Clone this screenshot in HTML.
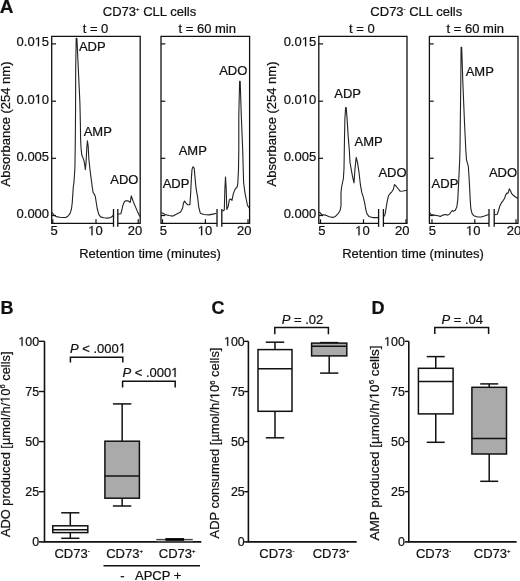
<!DOCTYPE html>
<html><head><meta charset="utf-8"><style>
html,body{margin:0;padding:0;background:#fff;}
svg{display:block;will-change:transform;}
text{font-family:"Liberation Sans",sans-serif;font-size:13px;fill:#111;stroke:#111;stroke-width:0.22px;}
line{stroke:#111;}
.fr{fill:none;stroke:#111;stroke-width:1.3;}
.c{fill:none;stroke:#222;stroke-width:1.1;stroke-linejoin:round;}
.bx{fill:none;stroke:#111;stroke-width:1.5;}
.h1{fill:none;stroke:none;}
.one{fill:#111;stroke:#111;stroke-width:0.22px;}
.ax{fill:none;stroke:#111;stroke-width:1.6;}
rect.bx{stroke-width:1.5;}
</style></head><body>
<svg width="520" height="581" viewBox="0 0 520 581">
<rect width="520" height="581" fill="#fff"/>
<text x="-0.3" y="12.8" style="font-weight:bold;font-size:19px">A</text>
<text x="149.5" y="15.8" text-anchor="middle">CD73<tspan style="font-size:6px" dy="-5">+</tspan><tspan dy="5"> CLL cells</tspan></text>
<text x="416.3" y="15.8" text-anchor="middle">CD73<tspan style="font-size:6px" dy="-5">-</tspan><tspan dy="5"> CLL cells</tspan></text>
<path class="fr" d="M113.5,223.3 H51.7 V36.3 H140.2 V223.3 H117.8"/>
<line x1="113.5" y1="209" x2="113.5" y2="226.8" stroke-width="1.3"/>
<line x1="117.8" y1="209" x2="117.8" y2="226.8" stroke-width="1.3"/>
<line x1="51.7" y1="43.9" x2="56.0" y2="43.9" stroke-width="1.2"/>
<line x1="51.7" y1="101.2" x2="56.0" y2="101.2" stroke-width="1.2"/>
<line x1="51.7" y1="158.3" x2="56.0" y2="158.3" stroke-width="1.2"/>
<line x1="51.7" y1="215.5" x2="56.0" y2="215.5" stroke-width="1.2"/>
<line x1="52.8" y1="223.3" x2="52.8" y2="219.3" stroke-width="1.2"/>
<line x1="96.0" y1="223.3" x2="96.0" y2="219.3" stroke-width="1.2"/>
<line x1="138.2" y1="223.3" x2="138.2" y2="219.3" stroke-width="1.2"/>
<text x="54.2" y="235.2" text-anchor="middle">5</text>
<text x="95.4" y="235.2" text-anchor="middle"><tspan class="h1">1</tspan>0</text>
<text x="135.1" y="235.2" text-anchor="middle">20</text>
<text x="95.5" y="33.3" text-anchor="middle">t = 0</text>
<text x="49.1" y="46.199999999999996" text-anchor="end">0.0<tspan class="h1">1</tspan>5</text>
<text x="49.1" y="103.5" text-anchor="end">0.0<tspan class="h1">1</tspan>0</text>
<text x="49.1" y="160.60000000000002" text-anchor="end">0.005</text>
<text x="49.1" y="217.8" text-anchor="end">0.000</text>
<path class="fr" d="M217.0,223.3 H161.0 V36.3 H249.6 V223.3 H221.8"/>
<line x1="217.0" y1="209" x2="217.0" y2="226.8" stroke-width="1.3"/>
<line x1="221.8" y1="209" x2="221.8" y2="226.8" stroke-width="1.3"/>
<line x1="161.0" y1="43.9" x2="165.3" y2="43.9" stroke-width="1.2"/>
<line x1="161.0" y1="101.2" x2="165.3" y2="101.2" stroke-width="1.2"/>
<line x1="161.0" y1="158.3" x2="165.3" y2="158.3" stroke-width="1.2"/>
<line x1="161.0" y1="215.5" x2="165.3" y2="215.5" stroke-width="1.2"/>
<line x1="162.5" y1="223.3" x2="162.5" y2="219.3" stroke-width="1.2"/>
<line x1="205.4" y1="223.3" x2="205.4" y2="219.3" stroke-width="1.2"/>
<line x1="248.0" y1="223.3" x2="248.0" y2="219.3" stroke-width="1.2"/>
<text x="163.4" y="235.2" text-anchor="middle">5</text>
<text x="205.0" y="235.2" text-anchor="middle"><tspan class="h1">1</tspan>0</text>
<text x="244.2" y="235.2" text-anchor="middle">20</text>
<text x="207.2" y="33.3" text-anchor="middle">t = 60 min</text>
<path class="fr" d="M378.6,223.3 H318.8 V36.3 H407.0 V223.3 H383.4"/>
<line x1="378.6" y1="209" x2="378.6" y2="226.8" stroke-width="1.3"/>
<line x1="383.4" y1="209" x2="383.4" y2="226.8" stroke-width="1.3"/>
<line x1="318.8" y1="43.9" x2="323.1" y2="43.9" stroke-width="1.2"/>
<line x1="318.8" y1="101.2" x2="323.1" y2="101.2" stroke-width="1.2"/>
<line x1="318.8" y1="158.3" x2="323.1" y2="158.3" stroke-width="1.2"/>
<line x1="318.8" y1="215.5" x2="323.1" y2="215.5" stroke-width="1.2"/>
<line x1="320.5" y1="223.3" x2="320.5" y2="219.3" stroke-width="1.2"/>
<line x1="363.5" y1="223.3" x2="363.5" y2="219.3" stroke-width="1.2"/>
<line x1="406.0" y1="223.3" x2="406.0" y2="219.3" stroke-width="1.2"/>
<text x="321.9" y="235.2" text-anchor="middle">5</text>
<text x="362.4" y="235.2" text-anchor="middle"><tspan class="h1">1</tspan>0</text>
<text x="402.3" y="235.2" text-anchor="middle">20</text>
<text x="361.8" y="33.3" text-anchor="middle">t = 0</text>
<text x="316.2" y="46.199999999999996" text-anchor="end">0.0<tspan class="h1">1</tspan>5</text>
<text x="316.2" y="103.5" text-anchor="end">0.0<tspan class="h1">1</tspan>0</text>
<text x="316.2" y="160.60000000000002" text-anchor="end">0.005</text>
<text x="316.2" y="217.8" text-anchor="end">0.000</text>
<path class="fr" d="M489.0,223.3 H429.4 V36.3 H518.0 V223.3 H494.2"/>
<line x1="489.0" y1="209" x2="489.0" y2="226.8" stroke-width="1.3"/>
<line x1="494.2" y1="209" x2="494.2" y2="226.8" stroke-width="1.3"/>
<line x1="429.4" y1="43.9" x2="433.7" y2="43.9" stroke-width="1.2"/>
<line x1="429.4" y1="101.2" x2="433.7" y2="101.2" stroke-width="1.2"/>
<line x1="429.4" y1="158.3" x2="433.7" y2="158.3" stroke-width="1.2"/>
<line x1="429.4" y1="215.5" x2="433.7" y2="215.5" stroke-width="1.2"/>
<line x1="432.0" y1="223.3" x2="432.0" y2="219.3" stroke-width="1.2"/>
<line x1="474.8" y1="223.3" x2="474.8" y2="219.3" stroke-width="1.2"/>
<line x1="516.0" y1="223.3" x2="516.0" y2="219.3" stroke-width="1.2"/>
<text x="432.3" y="235.2" text-anchor="middle">5</text>
<text x="473.2" y="235.2" text-anchor="middle"><tspan class="h1">1</tspan>0</text>
<text x="514.0" y="235.2" text-anchor="middle">20</text>
<text x="475.3" y="33.3" text-anchor="middle">t = 60 min</text>
<text x="150" y="258.3" text-anchor="middle">Retention time (minutes)</text>
<text x="413" y="258.3" text-anchor="middle">Retention time (minutes)</text>
<text transform="translate(10.3,124) rotate(-90)" text-anchor="middle">Absorbance (254 nm)</text>
<text transform="translate(276.2,124) rotate(-90)" text-anchor="middle">Absorbance (254 nm)</text>
<text x="78.9" y="51.2">ADP</text>
<text x="83.7" y="135.9">AMP</text>
<text x="110.3" y="184.0">ADO</text>
<text x="178.7" y="155.0">AMP</text>
<text x="162.7" y="187.6">ADP</text>
<text x="219.2" y="74.5">ADO</text>
<text x="334.3" y="98.3">ADP</text>
<text x="354.5" y="145.6">AMP</text>
<text x="378.4" y="177.3">ADO</text>
<text x="465.7" y="76.0">AMP</text>
<text x="431.59999999999997" y="188.1">ADP</text>
<text x="488.9" y="177.4">ADO</text>
<polyline class="c" points="51.3,211.9 52.5,213.1 53.75,215 55.6,216.25 57.5,216.9 60,217.25 62.5,217.5 65.6,217.5 67.5,216.5 69.4,214.4 70.6,211.9 71.5,208.75 72.25,202.5 72.75,195 73.2,188 74,182 74.9,167.8 75.2,148.9 75.4,130 75.6,102.8 75.7,68.4 76.2,38.3 76.9,38.5 77.5,51.2 78.7,77 79.9,102.8 80.4,125 80.6,139.5 81.1,148.9 81.8,155 83,157.9 83.9,160.3 84.9,165.9 85.3,169.7 86,163.1 86.75,148.9 87.4,140.9 88.2,146.1 88.8,158.4 89.8,167.8 90.7,175.4 91.6,182 92.3,187.5 93.1,192.5 94.4,194.4 95.25,196.25 96.25,202.5 97.25,208.75 98.75,214.4 100.6,216.9 103.75,217.75 107.5,218.1 110.6,217.5 112.5,216.25 113.3,214.8"/>
<polyline class="c" points="118.1,214.1 120.9,213.7 122,209.5 122.8,205.6 124.3,201.7 125.5,200.9 128.2,200.9 130.2,202.5 131.3,195.9 133.3,201.7 135.6,207.1 137.9,212.6 139.8,216.4"/>
<polyline class="c" points="161.3,212.6 165.2,214.5 169,215.5 172.9,216.1 176.8,213.9 180.6,211.9 182.6,208.1 183.5,202.9 184.5,201 185.8,202.9 187.7,204.8 189.9,204.8 190.7,192.6 191.4,178.4 192,169.4 193,166.8 194.2,168.1 195.1,178.4 196.1,188.7 197.7,197.7 198.7,206.8 200.3,213.2 203.9,214.5 209,214.9 214.2,213.9 216.1,213.2"/>
<polyline class="c" points="222.3,211.3 224.3,210 224.9,188.7 225.5,177.1 226.2,188.7 226.8,209.4 228.1,206.8 229.4,199.7 230.7,199 232,200.3 233.3,193.9 235,189.4 237.2,186.8 237.8,183.5 238.5,169.4 238.8,150 238.8,116 239.6,81.2 240.2,81.2 241.3,116 242.7,150 243.6,182.3 244.9,192.6 246.2,199 247.5,205.5 249.4,208.1"/>
<polyline class="c" points="319.2,212 321.7,214.5 325.4,215.1 329.2,216.8 332.9,217.4 335.4,216.4 337.9,213.9 339.3,212 340.3,209.6 341,205.8 341,192.2 341.8,186 343.4,178.5 344,168.6 344.3,150 344.5,137.9 344.9,118.9 345.6,107.6 346.2,107.6 347.1,118.9 348.3,137.9 349.3,150 350,162.4 351.3,169.9 352.7,177.3 354,182.9 355,168.6 356.2,157.4 357.5,162.4 359,172.3 360.4,184.7 361.7,192.2 363.3,197.1 364.5,202.1 365.8,209.6 367,213.9 368.9,216.4 372.6,217.6 378.2,217.6"/>
<polyline class="c" points="384,216.5 385.1,214.2 386.2,207.5 387.3,200.8 388.5,195.8 390.1,193.5 391.8,191.8 393.5,189 394.4,184.6 395.7,185.7 398,188.5 400.2,191.3 403,191 406.9,190.2"/>
<polyline class="c" points="429.9,212.7 431.1,214.5 434.2,215.1 437.9,215.8 440.4,216.4 442.9,215.1 445.4,214.5 447.9,215.1 449.7,213.9 451,212 452.2,210.5 453.4,211.4 455.3,210.2 456.8,207.1 457.8,199.6 458.4,187.2 459,174.8 459.6,162.4 460,150 460.3,122.6 460.8,81.3 461.1,47.2 461.7,47.2 462.8,81.3 464.5,122.6 465.8,150 466.5,159.9 467.5,163.6 468.3,166.1 468.9,174.8 469.6,187.2 470.2,199.6 470.8,208.3 472,213.3 473.9,215.8 477.6,217 481.3,217 485.1,215.8 488.8,214.5"/>
<polyline class="c" points="494.9,214.8 497.3,214.2 498.5,210.5 499.7,206.3 501.5,202.7 503.3,200.3 504.5,198.5 505.7,194.9 506.9,193.1 508.1,193.1 509.3,188.9 510.5,190.7 511.7,193.7 513.5,195.5 515.9,197.3 517.7,198.5"/>
<text x="0.6" y="314" style="font-weight:bold;font-size:18px">B</text>
<path class="ax" d="M44.5,341.3 V541.9 H201.3"/>
<line x1="39.0" y1="541.9" x2="44.5" y2="541.9" stroke-width="1.6"/>
<text x="39.1" y="546.3" text-anchor="end" style="font-size:12.4px">0</text>
<line x1="39.0" y1="491.7" x2="44.5" y2="491.7" stroke-width="1.4"/>
<text x="39.1" y="496.09999999999997" text-anchor="end" style="font-size:12.4px">25</text>
<line x1="39.0" y1="441.6" x2="44.5" y2="441.6" stroke-width="1.4"/>
<text x="39.1" y="446.0" text-anchor="end" style="font-size:12.4px">50</text>
<line x1="39.0" y1="391.5" x2="44.5" y2="391.5" stroke-width="1.4"/>
<text x="39.1" y="395.9" text-anchor="end" style="font-size:12.4px">75</text>
<line x1="39.0" y1="341.3" x2="44.5" y2="341.3" stroke-width="1.4"/>
<text x="39.1" y="345.7" text-anchor="end" style="font-size:12.4px"><tspan class="h1">1</tspan>00</text>
<line class="bx" x1="70.3" y1="512.8000000000001" x2="70.3" y2="538.3000000000001"/>
<line class="bx" x1="61.199999999999996" y1="512.8000000000001" x2="79.39999999999999" y2="512.8000000000001"/>
<line class="bx" x1="61.199999999999996" y1="538.3000000000001" x2="79.39999999999999" y2="538.3000000000001"/>
<rect class="bx" x="52.8" y="525.8000000000001" width="35.0" height="6.7999999999999545" style="fill:#fff"/>
<line class="bx" x1="52.8" y1="529.7" x2="87.8" y2="529.7"/>
<line class="bx" x1="122.15" y1="403.90000000000003" x2="122.15" y2="506.00000000000006"/>
<line class="bx" x1="112.95" y1="403.90000000000003" x2="131.35" y2="403.90000000000003"/>
<line class="bx" x1="112.95" y1="506.00000000000006" x2="131.35" y2="506.00000000000006"/>
<rect class="bx" x="104.9" y="441.20000000000005" width="34.5" height="57.0" style="fill:#aaa"/>
<line class="bx" x1="104.9" y1="476.00000000000006" x2="139.4" y2="476.00000000000006"/>
<line x1="156.3" y1="539.4" x2="192.8" y2="539.4" style="stroke:#333;stroke-width:1"/>
<line x1="156.3" y1="540.9" x2="192.8" y2="540.9" style="stroke:#999;stroke-width:1"/>
<rect x="165.4" y="538.1" width="18.7" height="2.7" style="fill:#000"/>
<path class="bx" d="M70.4,362.6 V357.2 H122.8 V362.6"/>
<path class="bx" d="M122.6,387.4 V381.2 H175.2 V387.4"/>
<text x="70.0" y="352.5"><tspan style="font-style:italic">P</tspan> &lt; .000<tspan class="h1">1</tspan></text>
<text x="122.4" y="377.0"><tspan style="font-style:italic">P</tspan> &lt; .000<tspan class="h1">1</tspan></text>
<text x="72.0" y="557.8" text-anchor="middle">CD73<tspan style="font-size:6px" dy="-5">-</tspan></text>
<text x="124.6" y="557.8" text-anchor="middle">CD73<tspan style="font-size:6px" dy="-5">+</tspan></text>
<text x="177.2" y="557.8" text-anchor="middle">CD73<tspan style="font-size:6px" dy="-5">+</tspan></text>
<line x1="103.5" y1="565.8" x2="200.0" y2="565.8" stroke-width="1.5"/>
<text x="122.5" y="580.2" text-anchor="middle">-</text>
<text x="135.0" y="580.2">APCP</text>
<text x="177.5" y="580.2" text-anchor="middle">+</text>
<text transform="translate(9.6,444.3) rotate(-90)" text-anchor="middle" textLength="185.6" lengthAdjust="spacingAndGlyphs">ADO produced [µmol/h/<tspan class="h1">1</tspan>0<tspan style="font-size:7.6px" dy="-4.5">6</tspan><tspan dy="4.5"> cells]</tspan></text>
<text x="211.6" y="314" style="font-weight:bold;font-size:18px">C</text>
<path class="ax" d="M248.4,341.3 V541.9 H356.7"/>
<line x1="244.20000000000002" y1="541.9" x2="248.4" y2="541.9" stroke-width="1.6"/>
<text x="244.7" y="546.3" text-anchor="end" style="font-size:12.4px">0</text>
<line x1="244.20000000000002" y1="491.7" x2="248.4" y2="491.7" stroke-width="1.4"/>
<text x="244.7" y="496.09999999999997" text-anchor="end" style="font-size:12.4px">25</text>
<line x1="244.20000000000002" y1="441.6" x2="248.4" y2="441.6" stroke-width="1.4"/>
<text x="244.7" y="446.0" text-anchor="end" style="font-size:12.4px">50</text>
<line x1="244.20000000000002" y1="391.5" x2="248.4" y2="391.5" stroke-width="1.4"/>
<text x="244.7" y="395.9" text-anchor="end" style="font-size:12.4px">75</text>
<line x1="244.20000000000002" y1="341.3" x2="248.4" y2="341.3" stroke-width="1.4"/>
<text x="244.7" y="345.7" text-anchor="end" style="font-size:12.4px"><tspan class="h1">1</tspan>00</text>
<line class="bx" x1="275.0" y1="342.20000000000005" x2="275.0" y2="437.80000000000007"/>
<line class="bx" x1="265.8" y1="342.20000000000005" x2="284.2" y2="342.20000000000005"/>
<line class="bx" x1="265.8" y1="437.80000000000007" x2="284.2" y2="437.80000000000007"/>
<rect class="bx" x="258.0" y="349.6" width="34.0" height="61.700000000000045" style="fill:#fff"/>
<line class="bx" x1="258.0" y1="368.70000000000005" x2="292.0" y2="368.70000000000005"/>
<line class="bx" x1="329.2" y1="342.6" x2="329.2" y2="373.1"/>
<line class="bx" x1="320.09999999999997" y1="342.6" x2="338.3" y2="342.6"/>
<line class="bx" x1="320.09999999999997" y1="373.1" x2="338.3" y2="373.1"/>
<rect class="bx" x="311.59999999999997" y="343.1" width="35.2" height="12.800000000000011" style="fill:#aaa"/>
<line class="bx" x1="311.59999999999997" y1="346.20000000000005" x2="346.79999999999995" y2="346.20000000000005"/>
<path class="bx" d="M274.8,334.2 V327.5 H328.4 V334.2"/>
<text x="302.5" y="323.8" text-anchor="middle"><tspan style="font-style:italic">P</tspan> = .02</text>
<text x="276.9" y="557.8" text-anchor="middle">CD73<tspan style="font-size:6px" dy="-5">-</tspan></text>
<text x="331.1" y="557.8" text-anchor="middle">CD73<tspan style="font-size:6px" dy="-5">+</tspan></text>
<text transform="translate(219.2,443.0) rotate(-90)" text-anchor="middle" textLength="190.9" lengthAdjust="spacingAndGlyphs">ADP consumed [µmol/h/<tspan class="h1">1</tspan>0<tspan style="font-size:7.6px" dy="-4.5">6</tspan><tspan dy="4.5"> cells]</tspan></text>
<text x="371.6" y="314" style="font-weight:bold;font-size:18px">D</text>
<path class="ax" d="M408.8,341.3 V541.9 H516.6"/>
<line x1="404.8" y1="541.9" x2="408.8" y2="541.9" stroke-width="1.6"/>
<text x="404.8" y="546.3" text-anchor="end" style="font-size:12.4px">0</text>
<line x1="404.8" y1="491.7" x2="408.8" y2="491.7" stroke-width="1.4"/>
<text x="404.8" y="496.09999999999997" text-anchor="end" style="font-size:12.4px">25</text>
<line x1="404.8" y1="441.6" x2="408.8" y2="441.6" stroke-width="1.4"/>
<text x="404.8" y="446.0" text-anchor="end" style="font-size:12.4px">50</text>
<line x1="404.8" y1="391.5" x2="408.8" y2="391.5" stroke-width="1.4"/>
<text x="404.8" y="395.9" text-anchor="end" style="font-size:12.4px">75</text>
<line x1="404.8" y1="341.3" x2="408.8" y2="341.3" stroke-width="1.4"/>
<text x="404.8" y="345.7" text-anchor="end" style="font-size:12.4px"><tspan class="h1">1</tspan>00</text>
<line class="bx" x1="435.75" y1="356.6" x2="435.75" y2="442.30000000000007"/>
<line class="bx" x1="426.75" y1="356.6" x2="444.75" y2="356.6"/>
<line class="bx" x1="426.75" y1="442.30000000000007" x2="444.75" y2="442.30000000000007"/>
<rect class="bx" x="418.4" y="368.30000000000007" width="34.7" height="45.599999999999966" style="fill:#fff"/>
<line class="bx" x1="418.4" y1="381.6" x2="453.09999999999997" y2="381.6"/>
<line class="bx" x1="489.2" y1="383.90000000000003" x2="489.2" y2="481.30000000000007"/>
<line class="bx" x1="480.2" y1="383.90000000000003" x2="498.2" y2="383.90000000000003"/>
<line class="bx" x1="480.2" y1="481.30000000000007" x2="498.2" y2="481.30000000000007"/>
<rect class="bx" x="471.9" y="387.30000000000007" width="34.6" height="66.69999999999999" style="fill:#aaa"/>
<line class="bx" x1="471.9" y1="438.6" x2="506.5" y2="438.6"/>
<path class="bx" d="M434.8,334.0 V327.5 H488.6 V334.0"/>
<text x="462.2" y="323.8" text-anchor="middle"><tspan style="font-style:italic">P</tspan> = .04</text>
<text x="433.6" y="557.8" text-anchor="middle">CD73<tspan style="font-size:6px" dy="-5">-</tspan></text>
<text x="492.2" y="557.8" text-anchor="middle">CD73<tspan style="font-size:6px" dy="-5">+</tspan></text>
<text transform="translate(378.7,443.0) rotate(-90)" text-anchor="middle" textLength="195.2" lengthAdjust="spacingAndGlyphs">AMP produced [µmol/h/<tspan class="h1">1</tspan>0<tspan style="font-size:7.6px" dy="-4.5">6</tspan><tspan dy="4.5"> cells]</tspan></text>
<path class="one" d="M91.43,235.20 L91.43,227.35 L89.42,228.79 L89.42,227.71 L91.53,226.26 L92.58,226.26 L92.58,235.20Z"/>
<path class="one" d="M37.90,46.20 L37.90,38.35 L35.88,39.79 L35.88,38.71 L38.00,37.26 L39.05,37.26 L39.05,46.20Z"/>
<path class="one" d="M37.90,103.50 L37.90,95.65 L35.88,97.09 L35.88,96.01 L38.00,94.56 L39.05,94.56 L39.05,103.50Z"/>
<path class="one" d="M201.03,235.20 L201.03,227.35 L199.02,228.79 L199.02,227.71 L201.13,226.26 L202.18,226.26 L202.18,235.20Z"/>
<path class="one" d="M358.43,235.20 L358.43,227.35 L356.42,228.79 L356.42,227.71 L358.53,226.26 L359.58,226.26 L359.58,235.20Z"/>
<path class="one" d="M305.00,46.20 L305.00,38.35 L302.98,39.79 L302.98,38.71 L305.10,37.26 L306.15,37.26 L306.15,46.20Z"/>
<path class="one" d="M305.00,103.50 L305.00,95.65 L302.98,97.09 L302.98,96.01 L305.10,94.56 L306.15,94.56 L306.15,103.50Z"/>
<path class="one" d="M469.23,235.20 L469.23,227.35 L467.22,228.79 L467.22,227.71 L469.33,226.26 L470.38,226.26 L470.38,235.20Z"/>
<path class="one" d="M21.52,345.70 L21.52,338.21 L19.59,339.58 L19.59,338.56 L21.61,337.17 L22.61,337.17 L22.61,345.70Z"/>
<path class="one" d="M122.07,352.50 L122.07,344.65 L120.05,346.09 L120.05,345.01 L122.16,343.56 L123.21,343.56 L123.21,352.50Z"/>
<path class="one" d="M174.47,377.00 L174.47,369.15 L172.45,370.59 L172.45,369.51 L174.56,368.06 L175.61,368.06 L175.61,377.00Z"/>
<g transform="translate(9.6,444.3) rotate(-90)"><path class="one" d="M44.77,0.00 L44.77,-7.85 L42.77,-6.41 L42.77,-7.49 L44.86,-8.94 L45.90,-8.94 L45.90,0.00Z"/></g>
<path class="one" d="M227.12,345.70 L227.12,338.21 L225.19,339.58 L225.19,338.56 L227.21,337.17 L228.21,337.17 L228.21,345.70Z"/>
<g transform="translate(219.2,443.0) rotate(-90)"><path class="one" d="M47.10,0.00 L47.10,-7.85 L45.09,-6.41 L45.09,-7.49 L47.19,-8.94 L48.24,-8.94 L48.24,0.00Z"/></g>
<path class="one" d="M387.22,345.70 L387.22,338.21 L385.29,339.58 L385.29,338.56 L387.31,337.17 L388.31,337.17 L388.31,345.70Z"/>
<g transform="translate(378.7,443.0) rotate(-90)"><path class="one" d="M47.02,0.00 L47.02,-7.85 L44.92,-6.41 L44.92,-7.49 L47.12,-8.94 L48.21,-8.94 L48.21,0.00Z"/></g>
</svg></body></html>
